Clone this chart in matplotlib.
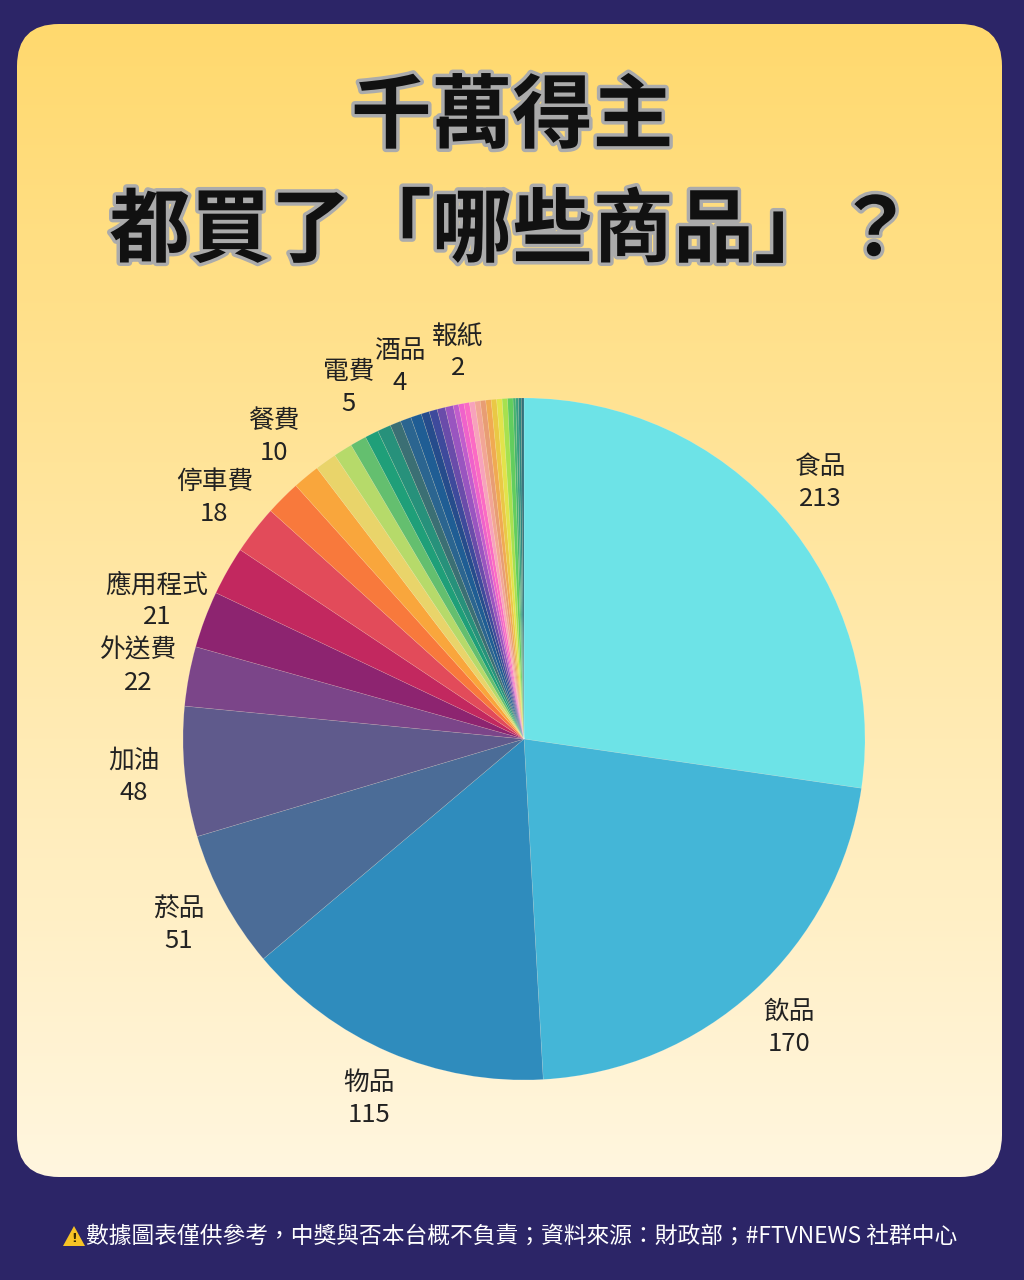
import numpy as np
import matplotlib.pyplot as plt
from matplotlib.patches import FancyBboxPatch, Polygon
import matplotlib.patheffects as pe

plt.rcParams['font.family'] = ['Noto Sans CJK TC', 'DejaVu Sans']

# slices, clockwise from 12 o'clock; '' = label not shown in the source
names = ['食品', '飲品', '物品', '菸品', '加油', '外送費', '應用程式', '', '停車費', '',
         '餐費', '', '', '', '電費', '', '', '', '酒品', '',
         '', '', '', '', '', '報紙', '', '', '', '',
         '', '', '', '', '', '', '', '']
values = [213, 170, 115, 51, 48, 22, 21, 18, 18, 13,
          10, 8, 7, 6, 5, 5, 4, 4, 4, 3,
          3, 3, 3, 2, 2, 2, 2, 2, 2, 2,
          2, 2, 2, 2, 1, 1, 1, 1]
colors = ['#6de3e7', '#44b6d7', '#2f8cbd', '#4b6c97', '#5f5a8c', '#7b4589', '#8d2470',
          '#c2285f', '#e24b5a', '#f8793c', '#f9a63c', '#e9d46a', '#b6da6a', '#64bf6f',
          '#1f9f79', '#27917b', '#3b6f74', '#2b6590', '#1f5d94', '#264c8c', '#3e4a9c',
          '#6a4caa', '#9955c0', '#c05dcd', '#ef62cb', '#fb6bc4', '#f7a2bc', '#f2a596',
          '#e89d74', '#f0aa52', '#eac845', '#e2e34b', '#a7e14f', '#62cd5e', '#45b36e',
          '#389f7e', '#2f8680', '#33707a']

title1 = '千萬得主'
title2 = '都買了「哪些商品」？'
footer = '數據圖表僅供參考，中獎與否本台概不負責；資料來源：財政部；#FTVNEWS 社群中心'

W, H = 1024, 1280
fig = plt.figure(figsize=(W / 100, H / 100), dpi=100, facecolor='#2c2567')

# background card with vertical gradient
bg = fig.add_axes([0, 0, 1, 1])
bg.set_xlim(0, W)
bg.set_ylim(H, 0)
bg.axis('off')
card = FancyBboxPatch((17, 24), 985, 1153, boxstyle='round,pad=0,rounding_size=42',
                      facecolor='none', edgecolor='none')
bg.add_patch(card)
top = np.array([255, 217, 110]) / 255
bottom = np.array([255, 246, 223]) / 255
t = np.linspace(0, 1, 256)[:, None]
grad = (top * (1 - t) + bottom * t)[:, None, :]
im = bg.imshow(grad, extent=(17, 1002, 1177, 24), aspect='auto', interpolation='bilinear')
im.set_clip_path(card)

# title
stroke = [pe.withStroke(linewidth=5, foreground='#ababab')]
for txt, y in [(title1, 118), (title2, 232)]:
    bg.text(512, y, txt, ha='center', va='center', fontsize=58, fontweight='black',
            color='#111111', path_effects=stroke)

# footer
bg.text(86, 1236, footer, ha='left', va='center', fontsize=16.4, color='white')
bg.add_patch(Polygon([[63, 1246], [74, 1226], [85, 1246]], closed=True,
                     facecolor='#f7c325', edgecolor='none'))
bg.text(74, 1239, '!', ha='center', va='center', fontsize=9, fontweight='bold',
        color='#3a2a00', family='DejaVu Sans')

# pie
R = 341
cx, cy = 524, H - 739
ax = fig.add_axes([(cx - 1.5 * R) / W, (cy - 1.5 * R) / H, 3 * R / W, 3 * R / H])
labels = [f'{n}\n{v}' if n else '' for n, v in zip(names, values)]
wedges, texts = ax.pie(values, colors=colors, startangle=90, counterclock=False,
                       labels=labels, labeldistance=1.15,
                       wedgeprops=dict(linewidth=0.4, edgecolor=(1, 1, 1, 0.2)),
                       textprops=dict(fontsize=18.5, color='#222222'))
for tx in texts:
    tx.set_ha('center')
    tx.set_va('center')
    tx.set_linespacing(1.3)
ax.set_xlim(-1.5, 1.5)
ax.set_ylim(-1.5, 1.5)
ax.axis('off')

fig.savefig('out.png', dpi=100, facecolor=fig.get_facecolor())
